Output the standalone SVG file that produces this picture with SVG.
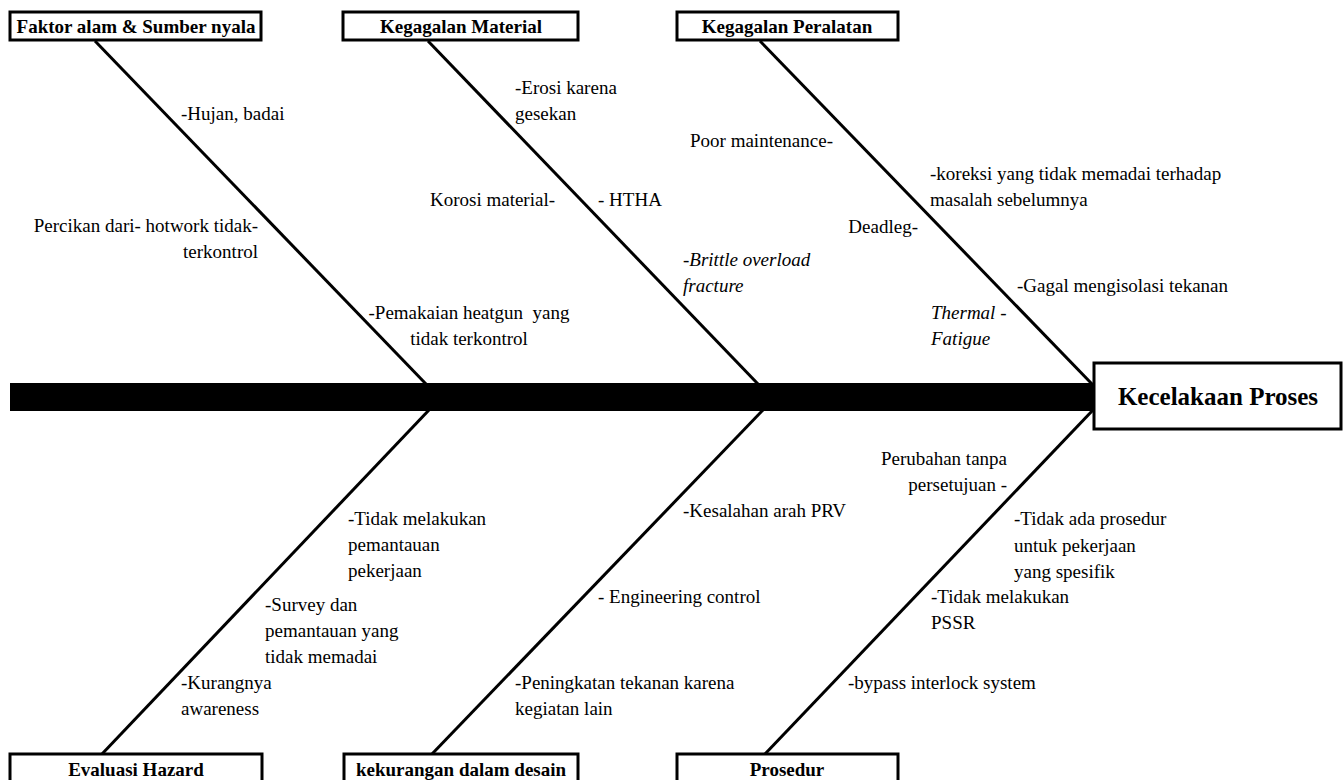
<svg xmlns="http://www.w3.org/2000/svg" width="1343" height="780" viewBox="0 0 1343 780">
<style>
.box{fill:#fff;stroke:#000;stroke-width:3}
text{font-family:'Liberation Serif','DejaVu Serif','Times New Roman',serif;fill:#000}
.lbl{font-size:19px;font-weight:bold;text-anchor:middle}
.head{font-size:25px;font-weight:bold;text-anchor:middle}
.t{font-size:19px}
.i{font-style:italic}
.e{text-anchor:end}
.m{text-anchor:middle}
.bone{stroke:#000;stroke-width:3;fill:none}
</style>
<rect width="1343" height="780" fill="#fff"/>
<g id="connectors">
<rect x="10" y="383" width="1085" height="28" fill="#000"/>
<line class="bone" x1="95" y1="41" x2="426" y2="384"/>
<line class="bone" x1="428" y1="41" x2="758" y2="384"/>
<line class="bone" x1="760" y1="41" x2="1092" y2="384"/>
<line class="bone" x1="429" y1="410" x2="102" y2="754"/>
<line class="bone" x1="763" y1="410" x2="432" y2="754"/>
<line class="bone" x1="1093" y1="410" x2="765" y2="754"/>
</g>
<g id="head">
<rect class="box" x="1094" y="363" width="247" height="66"/>
<text class="head" x="1218" y="405">Kecelakaan Proses</text>
</g>
<g id="faktor-alam">
<rect class="box" x="10" y="12" width="251" height="28"/>
<text class="lbl" x="136" y="33">Faktor alam &amp; Sumber nyala</text>
<text class="t" x="181" y="120">-Hujan, badai</text>
<text class="t e" x="258" y="232">Percikan dari- hotwork tidak-</text>
<text class="t e" x="258" y="258">terkontrol</text>
<text class="t m" x="469" y="319" xml:space="preserve">-Pemakaian heatgun  yang</text>
<text class="t m" x="469" y="345">tidak terkontrol</text>
</g>
<g id="kegagalan-material">
<rect class="box" x="343" y="12" width="235" height="28"/>
<text class="lbl" x="461" y="33">Kegagalan Material</text>
<text class="t" x="515" y="94">-Erosi karena</text>
<text class="t" x="515" y="120">gesekan</text>
<text class="t e" x="555" y="206">Korosi material-</text>
<text class="t" x="598" y="206">- HTHA</text>
<text class="t i" x="683" y="266">-Brittle overload</text>
<text class="t i" x="683" y="292">fracture</text>
</g>
<g id="kegagalan-peralatan">
<rect class="box" x="677" y="12" width="221" height="28"/>
<text class="lbl" x="787" y="33">Kegagalan Peralatan</text>
<text class="t e" x="833" y="147">Poor maintenance-</text>
<text class="t" x="930" y="180">-koreksi yang tidak memadai terhadap</text>
<text class="t" x="930" y="206">masalah sebelumnya</text>
<text class="t e" x="918" y="233">Deadleg-</text>
<text class="t" x="1017" y="292">-Gagal mengisolasi tekanan</text>
<text class="t i" x="931" y="319">Thermal -</text>
<text class="t i" x="931" y="345">Fatigue</text>
</g>
<g id="evaluasi-hazard">
<rect class="box" x="10" y="754" width="252" height="30"/>
<text class="lbl" x="136" y="776">Evaluasi Hazard</text>
<text class="t" x="348" y="525">-Tidak melakukan</text>
<text class="t" x="348" y="551">pemantauan</text>
<text class="t" x="348" y="577">pekerjaan</text>
<text class="t" x="265" y="611">-Survey dan</text>
<text class="t" x="265" y="637">pemantauan yang</text>
<text class="t" x="265" y="663">tidak memadai</text>
<text class="t" x="181" y="689">-Kurangnya</text>
<text class="t" x="181" y="715">awareness</text>
</g>
<g id="kekurangan-desain">
<rect class="box" x="344" y="754" width="234" height="30"/>
<text class="lbl" x="461" y="776">kekurangan dalam desain</text>
<text class="t" x="683" y="517">-Kesalahan arah PRV</text>
<text class="t" x="598" y="603">- Engineering control</text>
<text class="t" x="515" y="689">-Peningkatan tekanan karena</text>
<text class="t" x="515" y="715">kegiatan lain</text>
</g>
<g id="prosedur">
<rect class="box" x="677" y="754" width="221" height="30"/>
<text class="lbl" x="787" y="776">Prosedur</text>
<text class="t e" x="1007" y="465">Perubahan tanpa</text>
<text class="t e" x="1007" y="491">persetujuan -</text>
<text class="t" x="1014" y="525">-Tidak ada prosedur</text>
<text class="t" x="1014" y="552">untuk pekerjaan</text>
<text class="t" x="1014" y="578">yang spesifik</text>
<text class="t" x="931" y="603">-Tidak melakukan</text>
<text class="t" x="931" y="629">PSSR</text>
<text class="t" x="848" y="689">-bypass interlock system</text>
</g>
</svg>
